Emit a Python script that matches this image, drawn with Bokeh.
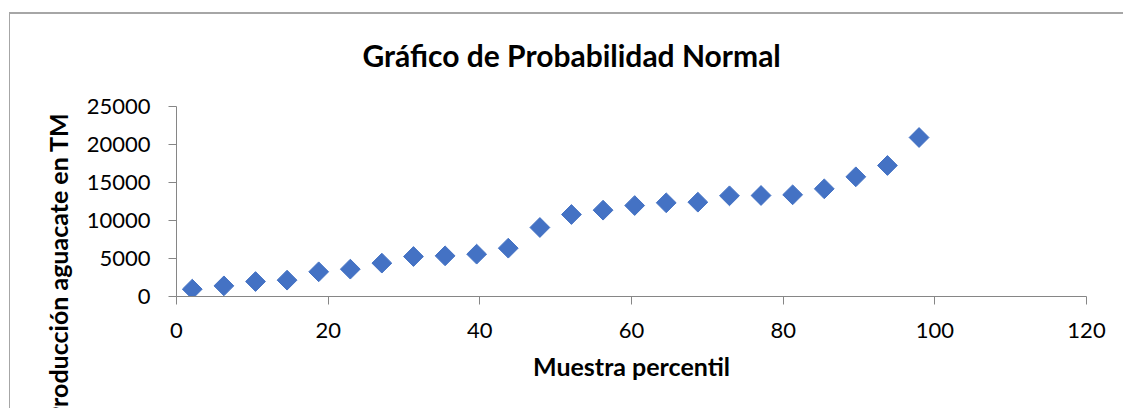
import numpy as np
from bokeh.plotting import figure
from bokeh.models import FixedTicker, Range1d, Title
from bokeh.embed import file_html
from bokeh.resources import INLINE

# ---- data ----
percentil = [2.08, 6.25, 10.42, 14.58, 18.75, 22.92, 27.08, 31.25, 35.42, 39.58,
             43.75, 47.92, 52.08, 56.25, 60.42, 64.58, 68.75, 72.92, 77.08, 81.25,
             85.42, 89.58, 93.75, 97.92]
produccion = [965, 1400, 1970, 2150, 3250, 3600, 4390, 5260, 5350, 5570,
              6360, 9080, 10790, 11360, 11970, 12330, 12410, 13250, 13290, 13380,
              14170, 15750, 17240, 20920]
x_ticks = [0, 20, 40, 60, 80, 100, 120]
y_ticks = [0, 5000, 10000, 15000, 20000, 25000]
title_text = "Gráfico de Probabilidad Normal"
x_label = "Muestra percentil"
y_label = "Producción aguacate en TM"

# ---- layout ----
W, H = 1123, 408
BL, BR, BT, BB = 176, 37, 106, 112

p = figure(width=W, height=H, x_range=Range1d(0, 120), y_range=Range1d(0, 25000),
           output_backend="svg", toolbar_location=None,
           min_border_left=BL, min_border_right=BR, min_border_top=BT, min_border_bottom=BB)
# chart-area frame (top and left edges of the chart box, drawn behind the canvas)
p.styles = {
    "background-color": "white",
    "background-image": "linear-gradient(#a6a6a6, #a6a6a6), linear-gradient(#a6a6a6, #a6a6a6)",
    "background-position": "9px 12px, 9px 12px",
    "background-size": "100% 2px, 1px 100%",
    "background-repeat": "no-repeat",
}
p.outline_line_color = None
p.xgrid.visible = False
p.ygrid.visible = False
p.background_fill_color = None
p.border_fill_color = None

p.scatter(percentil, produccion, marker="square", size=14, angle=np.pi / 4,
          fill_color="#4472C4", line_color="#4472C4")

axis_col = "#868686"
for ax in (p.xaxis[0], p.yaxis[0]):
    ax.axis_line_color = axis_col
    ax.major_tick_line_color = axis_col
    ax.major_tick_out = 8
    ax.major_tick_in = 0
    ax.minor_tick_line_color = None
    ax.major_label_text_font = "Lato"
    ax.major_label_text_font_size = "22px"
    ax.major_label_text_color = "#000000"

p.xaxis.ticker = FixedTicker(ticks=x_ticks)
p.yaxis.ticker = FixedTicker(ticks=y_ticks)
p.xaxis.major_label_standoff = 18
p.yaxis.major_label_standoff = 18
p.xaxis.axis_label = x_label
p.xaxis.axis_label_text_font = "Lato"
p.xaxis.axis_label_text_font_style = "bold"
p.xaxis.axis_label_text_font_size = "25px"
p.xaxis.axis_label_text_color = "#000000"
p.xaxis.axis_label_standoff = 10

# chart title (centered on the whole chart, not on the plot area)
p.title.text = title_text
p.title.align = "left"
p.title.offset = 186
p.title.standoff = 68
p.title.text_font = "Lato"
p.title.text_font_style = "bold"
p.title.text_font_size = "30px"
p.title.text_color = "#000000"

# vertical axis title, anchored near the top of the plot area
p.add_layout(Title(text=y_label, align="right", offset=6, standoff=22,
                   text_font="Lato", text_font_style="bold", text_font_size="25px",
                   text_color="#000000"), "left")

open("out.html", "w").write(file_html(p, INLINE))
